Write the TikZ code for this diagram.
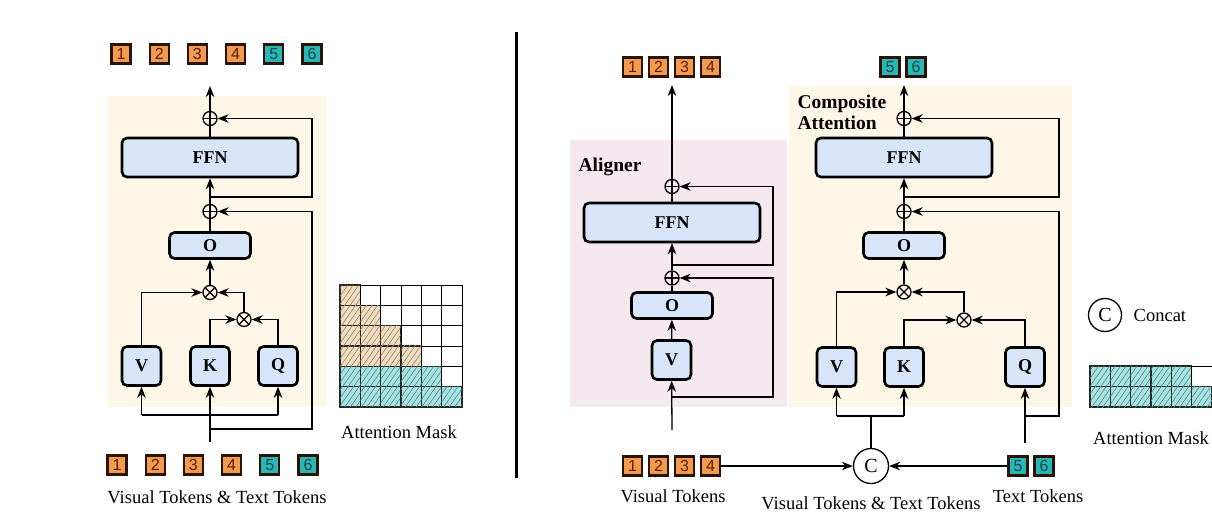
\documentclass[tikz,border=0pt]{standalone}
\usepackage{fontspec}
\setmainfont{Liberation Serif}
\setsansfont{Liberation Sans}
\usetikzlibrary{positioning,arrows.meta,patterns.meta}

\definecolor{tokorange}{HTML}{F29B4E}
\definecolor{tokred}{HTML}{5E1C00}
\definecolor{tokteal}{HTML}{2BB6B6}
\definecolor{tokdark}{HTML}{0E4848}
\definecolor{tokline}{HTML}{2A1408}
\definecolor{boxblue}{HTML}{D8E5F8}
\definecolor{bgbeige}{HTML}{FEF7E7}
\definecolor{bgpink}{HTML}{F5E8EF}
\definecolor{maskbeige}{HTML}{F0DCBE}
\definecolor{maskteal}{HTML}{A8E2E2}

\begin{document}
\begin{tikzpicture}[x=1pt,y=-1pt,
    conn/.style={line width=1.3pt,>={Stealth[length=11pt,width=8.5pt]}},
    tok/.style={draw=tokline,line width=2.2pt,minimum size=19pt,inner sep=0pt,font=\sffamily\fontsize{16}{16}\selectfont},
    vis/.style={tok,fill=tokorange,text=tokred},
    txt/.style={tok,fill=tokteal,text=tokdark},
    blk/.style={draw,rounded corners=5pt,line width=2.6pt,fill=boxblue,inner sep=0pt,font=\bfseries\fontsize{18}{18}\selectfont},
    wide/.style={blk,minimum width=176pt,minimum height=39pt},
    mid/.style={blk,minimum width=81pt,minimum height=26pt},
    sq/.style={blk,minimum width=39pt,minimum height=39pt},
    add/.style={circle,draw,line width=1.3pt,inner sep=0pt,minimum size=14pt,
        path picture={\draw[line width=1.3pt] (path picture bounding box.north) -- (path picture bounding box.south)
            (path picture bounding box.west) -- (path picture bounding box.east);}},
    mul/.style={circle,draw,line width=1.3pt,inner sep=0pt,minimum size=14pt,
        path picture={\draw[line width=1.3pt] (path picture bounding box.north west) -- (path picture bounding box.south east)
            (path picture bounding box.south west) -- (path picture bounding box.north east);}},
    cat/.style={circle,draw,line width=1.3pt,inner sep=0pt,minimum size=35pt,font=\fontsize{20}{20}\selectfont},
    lbl/.style={font=\fontsize{18.5}{22}\selectfont},
    tag/.style={font=\bfseries\fontsize{19.5}{24}\selectfont,align=left},
    cell/.style={line width=1.4pt,draw=black!85},
    beigecell/.style={cell,fill=maskbeige,postaction={pattern={Lines[angle=55,distance=4.5pt,line width=0.6pt]},pattern color=brown!60!black!70}},
    tealcell/.style={cell,fill=maskteal,postaction={pattern={Lines[angle=55,distance=4.5pt,line width=0.6pt]},pattern color=teal!70!black!70}},
    emptycell/.style={line width=0.7pt}]

\useasboundingbox (0,0) rectangle (1212,515);

% backgrounds
\fill[bgbeige] (108,96) rectangle (327,407);
\fill[bgpink] (570,140) rectangle (787,407);
\fill[bgbeige] (789,85) rectangle (1072,407);
\draw[line width=3pt] (516,32) -- (516,478);

% left: full attention block
\node[vis] (t1) at (121,54) {1};
\node[vis,right=17pt of t1] (t2) {2};
\node[vis,right=17pt of t2] (t3) {3};
\node[vis,right=17pt of t3] (t4) {4};
\node[txt,right=17pt of t4] (t5) {5};
\node[txt,right=17pt of t5] (t6) {6};

\node[add] (add1) at (210,118.5) {};
\node[wide] (ffn1) at (210,157.5) {FFN};
\node[add] (add2) at (210,211.5) {};
\node[mid] (o1) at (210,245.5) {O};
\node[mul] (mul1) at (210,292.5) {};
\node[mul] (mul2) at (244,319.5) {};
\node[sq] (v1) at (141.5,366) {V};
\node[sq] (k1) at (210,366) {K};
\node[sq] (q1) at (278,366) {Q};

\node[vis] (b1) at (117,465) {1};
\node[vis,right=17pt of b1] (b2) {2};
\node[vis,right=17pt of b2] (b3) {3};
\node[vis,right=17pt of b3] (b4) {4};
\node[txt,right=17pt of b4] (b5) {5};
\node[txt,right=17pt of b5] (b6) {6};
\node[lbl] (l1) at (217,497) {Visual Tokens \& Text Tokens};

\coordinate (top1) at (210,86);
\coordinate (s1) at (210,197);
\coordinate (r1) at (312,197);
\coordinate (s2) at (210,429);
\coordinate (r2) at (312,429);
\coordinate (in1) at (210,442);
\coordinate (bl1) at (141.5,415);
\coordinate (br1) at (278,415);
\draw[conn,->] (add1) -- (top1);
\draw[conn] (ffn1) -- (add1);
\draw[conn,->] (add2) -- (ffn1);
\draw[conn] (o1) -- (add2);
\draw[conn,->] (mul1) -- (o1);
\draw[conn,->] (v1) |- (mul1);
\draw[conn,->] (mul2) |- (mul1);
\draw[conn,->] (k1) |- (mul2);
\draw[conn,->] (q1) |- (mul2);
\draw[conn,->] (s1) -- (r1) |- (add1);
\draw[conn,->] (s2) -- (r2) |- (add2);
\draw[conn,->] (in1) -- (k1);
\draw[conn] (bl1) -- (br1);
\draw[conn,->] (bl1) -- (v1);
\draw[conn,->] (br1) -- (q1);

% left mask
\foreach \i in {0,...,5}
  \foreach \j in {0,...,5}{
    \pgfmathtruncatemacro{\kind}{\j<=\i ? (\i<4 ? 1 : 2) : 0}
    \ifcase\kind
      \draw[emptycell] (340+\j*20.33,285+\i*20.33) rectangle ++(20.33,20.33);
    \or
      \draw[beigecell] (340+\j*20.33,285+\i*20.33) rectangle ++(20.33,20.33);
    \or
      \draw[tealcell] (340+\j*20.33,285+\i*20.33) rectangle ++(20.33,20.33);
    \fi
  }
\node[lbl] (m1) at (399,432) {Attention Mask};

% right: aligner
\node[tag] (al) at (610,167) {Aligner};
\node[vis] (u1) at (632.5,67) {1};
\node[vis,right=4.8pt of u1] (u2) {2};
\node[vis,right=4.8pt of u2] (u3) {3};
\node[vis,right=4.8pt of u3] (u4) {4};

\node[add] (add3) at (672,186.5) {};
\node[wide] (ffn2) at (672,222.5) {FFN};
\node[add] (add4) at (672,278) {};
\node[mid] (o2) at (672,305.5) {O};
\node[sq] (v2) at (671.5,360) {V};

\coordinate (top2) at (672,85);
\coordinate (s3) at (672,265);
\coordinate (r3) at (773,265);
\coordinate (s4) at (672,397);
\coordinate (r4) at (773,397);
\coordinate (in2) at (672,430);
\draw[conn,->] (add3) -- (top2);
\draw[conn] (ffn2) -- (add3);
\draw[conn,->] (add4) -- (ffn2);
\draw[conn] (o2) -- (add4);
\draw[conn,->] (v2) -- (o2);
\draw[conn,->] (s3) -- (r3) |- (add3);
\draw[conn,->] (s4) -- (r4) |- (add4);
\draw[conn,->] (in2) -- (v2);

% right: composite attention
\node[tag,anchor=west] (ca) at (794,112) {Composite\\[-3pt]Attention};
\node[txt] (w5) at (890,67) {5};
\node[txt,right=4.8pt of w5] (w6) {6};

\node[add] (add5) at (904,118.5) {};
\node[wide] (ffn3) at (904,157.5) {FFN};
\node[add] (add6) at (904,211.5) {};
\node[mid] (o3) at (904,245.5) {O};
\node[mul] (mul3) at (904,292) {};
\node[mul] (mul4) at (964,320) {};
\node[sq] (v3) at (836.5,367) {V};
\node[sq] (k3) at (904,367) {K};
\node[sq] (q3) at (1025,367) {Q};

\coordinate (top3) at (904,85);
\coordinate (s5) at (904,197);
\coordinate (r5) at (1059,197);
\coordinate (s6) at (1025,416);
\coordinate (r6) at (1059,416);
\coordinate (in3) at (1025,443);
\coordinate (bl3) at (836.5,416);
\coordinate (br3) at (904,416);
\coordinate (mc) at (871,416);
\draw[conn,->] (add5) -- (top3);
\draw[conn] (ffn3) -- (add5);
\draw[conn,->] (add6) -- (ffn3);
\draw[conn] (o3) -- (add6);
\draw[conn,->] (mul3) -- (o3);
\draw[conn,->] (v3) |- (mul3);
\draw[conn,->] (mul4) |- (mul3);
\draw[conn,->] (k3) |- (mul4);
\draw[conn,->] (q3) |- (mul4);
\draw[conn,->] (s5) -- (r5) |- (add5);
\draw[conn,->] (s6) -- (r6) |- (add6);
\draw[conn,->] (in3) -- (q3);

% inputs
\node[cat] (c) at (871,466) {C};
\node[vis] (x1) at (632.5,466) {1};
\node[vis,right=4.8pt of x1] (x2) {2};
\node[vis,right=4.8pt of x2] (x3) {3};
\node[vis,right=4.8pt of x3] (x4) {4};
\node[txt] (y5) at (1018,466) {5};
\node[txt,right=4.8pt of y5] (y6) {6};
\node[lbl] (l2) at (673,496) {Visual Tokens};
\node[lbl] (l3) at (1038,496) {Text Tokens};
\node[lbl] (l4) at (871,503) {Visual Tokens \& Text Tokens};

\draw[conn,->] (x4) -- (c);
\draw[conn,->] (y5) -- (c);
\draw[conn] (c) -- (mc);
\draw[conn] (bl3) -- (br3);
\draw[conn,->] (bl3) -- (v3);
\draw[conn,->] (br3) -- (k3);

% legend
\node[cat,minimum size=33pt] (cl) at (1105,315) {C};
\node[lbl,right=8pt of cl] (cn) {Concat};

% right mask
\foreach \i/\n in {0/4,1/5}
  \foreach \j in {0,...,5}{
    \ifnum\j>\n\relax
      \draw[emptycell] (1090+\j*20.33,366+\i*20.5) rectangle ++(20.33,20.5);
    \else
      \draw[tealcell] (1090+\j*20.33,366+\i*20.5) rectangle ++(20.33,20.5);
    \fi
  }
\node[lbl] (m2) at (1151,438) {Attention Mask};

\end{tikzpicture}
\end{document}
